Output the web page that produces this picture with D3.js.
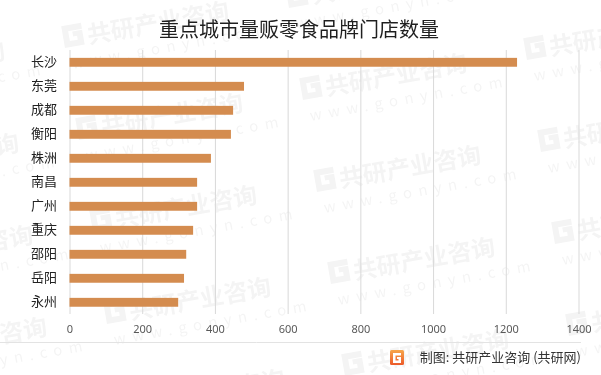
<!DOCTYPE html>
<html>
<head>
<meta charset="utf-8">
<script src="https://cdn.jsdelivr.net/npm/d3@7"></script>
<style>
  body { margin: 0; background: #fff; }
  svg { display: block; font-family: "Noto Sans CJK SC", "Noto Sans", sans-serif; }
</style>
</head>
<body>
<script>
const width = 601;
const height = 375;

// данные
const cities = ['长沙', '东莞', '成都', '衡阳', '株洲', '南昌', '广州', '重庆', '邵阳', '岳阳', '永州'];
const stores = [1231, 480, 450, 444, 389, 351, 351, 340, 321, 315, 299];
const xTicks = [0, 200, 400, 600, 800, 1000, 1200, 1400];

const title = '重点城市量贩零食品牌门店数量';
const source = '制图: 共研产业咨询 (共研网)';

const barColor = '#d48c4f';
const gridColor = '#d9d9d9';

const svg = d3.select('body').append('svg')
    .attr('width', width).attr('height', height);

svg.append('rect').attr('width', width).attr('height', height).attr('fill', '#fff');

// водяные знаки на фоне
const wm = svg.append('g').attr('fill', '#000').attr('opacity', 0.045);
const v1 = [14, 92], v2 = [224, -40], origin = [303, 100];
for (let i = -3; i <= 5; i++) {
  for (let j = -3; j <= 4; j++) {
    const px = origin[0] + i * v1[0] + j * v2[0];
    const py = origin[1] + i * v1[1] + j * v2[1];
    if (px < -220 || px > 620 || py < -30 || py > 420) continue;
    const g = wm.append('g').attr('transform', `translate(${px},${py}) rotate(-10)`);
    g.append('path')
      .attr('d', 'M0,-22 h20 v6 h-14 v10 h8 v-4 h-4 v-5 h10 v15 h-20 z');
    g.append('text').attr('x', 24).attr('y', 0)
      .attr('font-size', 24).attr('font-weight', 'bold')
      .text('共研产业咨询');
    g.append('text').attr('x', 4).attr('y', 22)
      .attr('font-size', 15).attr('letter-spacing', 6.5)
      .text('www.gonyn.com');
  }
}

// заголовок
svg.append('text')
    .attr('x', 299).attr('y', 37)
    .attr('text-anchor', 'middle')
    .attr('font-size', 20)
    .attr('fill', '#1f1f1f')
    .text(title);

// шкалы
const x = d3.scaleLinear().domain([0, 1400]).range([69.5, 578.5]);
const y = d3.scaleBand().domain(cities).range([50.3, 314.3])
    .paddingInner(0.63).paddingOuter(0.315);

// сетка
svg.append('g')
    .attr('transform', 'translate(0,314)')
    .call(d3.axisBottom(x).tickValues(xTicks).tickSize(-264).tickFormat(''))
    .call(g => g.select('.domain').remove())
    .call(g => g.selectAll('line').attr('stroke', gridColor));

// бары
svg.append('g').selectAll('rect')
    .data(cities)
    .join('rect')
    .attr('x', x(0))
    .attr('y', d => y(d))
    .attr('width', (d, i) => x(stores[i]) - x(0))
    .attr('height', y.bandwidth())
    .attr('fill', barColor);

// ось x
svg.append('g')
    .attr('transform', 'translate(0,314)')
    .call(d3.axisBottom(x).tickValues(xTicks).tickFormat(d3.format('d')).tickSize(0).tickPadding(11))
    .call(g => g.select('.domain').remove())
    .call(g => g.selectAll('text')
        .attr('font-size', 11)
        .attr('font-family', '"Noto Sans", "DejaVu Sans", sans-serif')
        .attr('fill', '#595959'));

// ось y
svg.append('g')
    .attr('transform', `translate(${x(0)},0)`)
    .call(d3.axisLeft(y).tickSize(0).tickPadding(12.5))
    .call(g => g.select('.domain').remove())
    .call(g => g.selectAll('text')
        .attr('font-size', 13)
        .attr('font-family', '"Noto Sans CJK SC", sans-serif')
        .attr('fill', '#222'));

// нижняя линия и подпись
svg.append('line')
    .attr('x1', 0).attr('x2', 581)
    .attr('y1', 342.5).attr('y2', 342.5)
    .attr('stroke', '#e3e3e3');

const defs = svg.append('defs');
const grad = defs.append('linearGradient').attr('id', 'logoGrad')
    .attr('x1', 0).attr('y1', 0).attr('x2', 0).attr('y2', 1);
grad.append('stop').attr('offset', '0%').attr('stop-color', '#f7a64a');
grad.append('stop').attr('offset', '100%').attr('stop-color', '#ec5a2a');

const logo = svg.append('g').attr('transform', 'translate(390,350)');
logo.append('rect').attr('width', 14).attr('height', 15).attr('rx', 1.5)
    .attr('fill', 'url(#logoGrad)');
logo.append('path')
    .attr('d', 'M3,3 h8 v2.5 h-5.5 v5 h3 v-1.5 h-1.5 v-2 h4 v6 h-8 z')
    .attr('fill', '#fff');

svg.append('text')
    .attr('x', 581).attr('y', 362)
    .attr('text-anchor', 'end')
    .attr('font-size', 13)
    .attr('fill', '#333')
    .text(source);
</script>
</body>
</html>
